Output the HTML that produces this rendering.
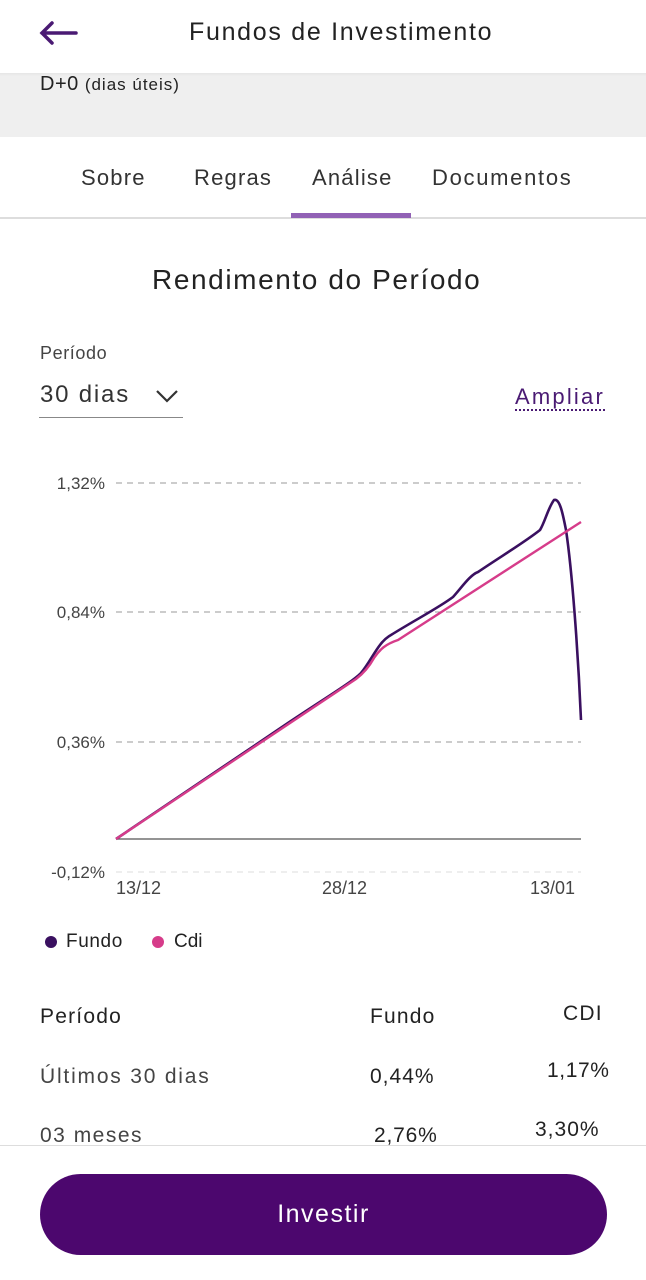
<!DOCTYPE html>
<html><head><meta charset="utf-8"><style>
*{margin:0;padding:0;box-sizing:border-box}
body{width:646px;height:1280px;background:#fff;font-family:"Liberation Sans","DejaVu Sans",sans-serif;color:#222;position:relative;overflow:hidden}
.a{position:absolute;white-space:nowrap}
</style></head><body>
<div class="a" style="left:0;top:74px;width:646px;height:63px;background:#efefef"></div>
<div class="a" style="left:0;top:70px;width:646px;height:6px;background:linear-gradient(#ddd,#efefef)"></div>
<div class="a" style="left:0;top:0;width:646px;height:73px;background:#fff"></div>
<svg class="a" style="left:38px;top:20px" width="42" height="26"><path d="M4 13H38M14 3L4 13L14 23" stroke="#4a1a73" stroke-width="3.5" fill="none" stroke-linecap="round"/></svg>
<div class="a" style="left:189px;top:18px;font-size:25px;letter-spacing:1.7px;color:#222">Fundos de Investimento</div>
<div class="a" style="left:40px;top:73px;font-size:20px;letter-spacing:0.5px;color:#222">D+0 <span style="font-size:17px;letter-spacing:1px">(dias úteis)</span></div>
<div class="a" style="left:81px;top:165px;font-size:22px;letter-spacing:1.2px;color:#333">Sobre</div>
<div class="a" style="left:194px;top:165px;font-size:22px;letter-spacing:1.2px;color:#333">Regras</div>
<div class="a" style="left:312px;top:165px;font-size:22px;letter-spacing:1.2px;color:#333">Análise</div>
<div class="a" style="left:432px;top:165px;font-size:22px;letter-spacing:1.7px;color:#333">Documentos</div>
<div class="a" style="left:0;top:217px;width:646px;height:2px;background:#ddd"></div>
<div class="a" style="left:291px;top:213px;width:120px;height:5px;background:#9161b5"></div>
<div class="a" style="left:152px;top:264px;font-size:28px;letter-spacing:1.6px;color:#222">Rendimento do Período</div>
<div class="a" style="left:40px;top:343px;font-size:18px;letter-spacing:0.6px;color:#444">Período</div>
<div class="a" style="left:40px;top:381px;font-size:24px;letter-spacing:1.8px;color:#333">30 dias</div>
<svg class="a" style="left:154px;top:388px" width="26" height="16"><path d="M3 3L13 13L23 3" stroke="#333" stroke-width="2.2" fill="none"/></svg>
<div class="a" style="left:39px;top:417px;width:144px;height:1px;background:#888"></div>
<div class="a" style="left:515px;top:385px;font-size:22px;letter-spacing:2.2px;color:#4a1a73;border-bottom:2px dotted #4a1a73;line-height:24px">Ampliar</div>
<svg class="a" style="left:0;top:460px" width="646" height="440">
<g stroke="#999" stroke-dasharray="6,5" stroke-width="1"><line x1="116" y1="23" x2="581" y2="23"/><line x1="116" y1="152" x2="581" y2="152"/><line x1="116" y1="282" x2="581" y2="282"/><line x1="116" y1="412" x2="581" y2="412" stroke="#ddd"/></g>
<line x1="116" y1="379" x2="581" y2="379" stroke="#555" stroke-width="1.2"/>
<g font-size="17" fill="#444" text-anchor="end"><text x="105" y="29">1,32%</text><text x="105" y="158">0,84%</text><text x="105" y="288">0,36%</text><text x="105" y="418">-0,12%</text></g>
<g font-size="18" fill="#444"><text x="116" y="434">13/12</text><text x="322" y="434">28/12</text><text x="530" y="434">13/01</text></g>
<path d="M116 379 L288 263 C330 235 352 222 361 213 C372 200 378 182 391 175 C415 160 440 147 453 137 C462 127 470 115 478 112 C500 97 525 82 540 70 C545 62 548 48 554 40 C560 38 563 55 566 70 C572 110 578 190 581 260" stroke="#3a1060" stroke-width="2.6" fill="none"/>
<path d="M116 379 L356 219 C364 213 369 207 374 198 C380 189 386 184 398 180 L581 62" stroke="#d63c8a" stroke-width="2.4" fill="none"/>
</svg>
<svg class="a" style="left:44px;top:935px" width="14" height="14"><circle cx="7" cy="7" r="6" fill="#3a1060"/></svg>
<div class="a" style="left:66px;top:931px;font-size:19px;letter-spacing:0.6px;color:#222">Fundo</div>
<svg class="a" style="left:151px;top:935px" width="14" height="14"><circle cx="7" cy="7" r="6" fill="#d63c8a"/></svg>
<div class="a" style="left:174px;top:931px;font-size:19px;color:#222">Cdi</div>
<div class="a" style="left:40px;top:1005px;font-size:21px;letter-spacing:1.2px;color:#222">Período</div>
<div class="a" style="left:370px;top:1005px;font-size:21px;letter-spacing:1.2px;color:#222">Fundo</div>
<div class="a" style="left:563px;top:1002px;font-size:21px;letter-spacing:1.2px;color:#222">CDI</div>
<div class="a" style="left:40px;top:1065px;font-size:21px;letter-spacing:1.8px;color:#444">Últimos 30 dias</div>
<div class="a" style="left:370px;top:1065px;font-size:21px;letter-spacing:1px;color:#222">0,44%</div>
<div class="a" style="left:547px;top:1059px;font-size:21px;letter-spacing:0.6px;color:#222">1,17%</div>
<div class="a" style="left:40px;top:1124px;font-size:21px;letter-spacing:1.5px;color:#444">03 meses</div>
<div class="a" style="left:374px;top:1124px;font-size:21px;letter-spacing:0.8px;color:#222">2,76%</div>
<div class="a" style="left:535px;top:1118px;font-size:21px;letter-spacing:1px;color:#222">3,30%</div>
<div class="a" style="left:0;top:1145px;width:646px;height:135px;background:#fff;border-top:1px solid #ddd"></div>
<div class="a" style="left:40px;top:1174px;width:567px;height:81px;border-radius:41px;background:#4c076e;color:#fff;font-size:25px;letter-spacing:1.5px;text-align:center;line-height:81px">Investir</div>
</body></html>
